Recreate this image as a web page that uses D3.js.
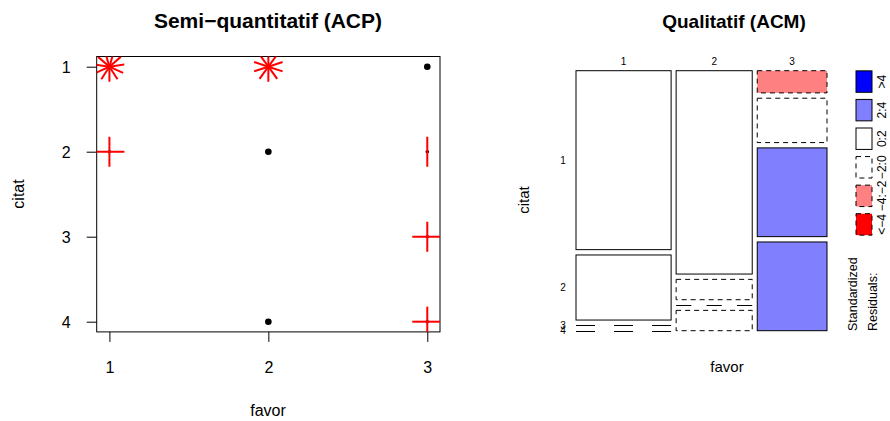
<!DOCTYPE html>
<html>
<head>
<meta charset="utf-8">
<script src="https://cdn.jsdelivr.net/npm/d3@7"></script>
<style>
  body { margin: 0; background: #fff; }
  text { font-family: "Liberation Sans", Arial, sans-serif; fill: #000; }
</style>
</head>
<body>
<script>
// data: contingency table, rows = favor, cols = citat
var favorLevels = ["1", "2", "3"];
var citatLevels = ["1", "2", "3", "4"];
var counts = [
  [11, 4, 0, 0],
  [10, 1, 0, 1],
  [1, 2, 4, 4]
];
// shading legend
var legendLabels = [">4", "2:4", "0:2", "\u22122:0", "\u22124:\u22122", "<\u22124"];
var legendFills = ["#0000ff", "#8080ff", "#ffffff", "#ffffff", "#ff8080", "#ff0000"];
var legendDashed = [false, false, false, true, true, true];

var width = 890, height = 421;
var svg = d3.select("body").append("svg")
  .attr("width", width).attr("height", height);

// ---------- left: sunflower plot ----------
var pts = [];
counts.forEach(function (row, i) {
  row.forEach(function (n, j) {
    if (n > 0) pts.push({ x: +favorLevels[i], y: +citatLevels[j], n: n });
  });
});

var x = d3.scaleLinear().domain([0.92, 3.08]).range([96.7, 440]);
var y = d3.scaleLinear().domain([0.88, 4.12]).range([56.5, 331.9]);

var left = svg.append("g");
left.append("clipPath").attr("id", "clipL")
  .append("rect")
  .attr("x", x.range()[0]).attr("y", y.range()[0])
  .attr("width", x.range()[1] - x.range()[0])
  .attr("height", y.range()[1] - y.range()[0]);

var xAxis = left.append("g")
  .attr("transform", "translate(0," + y.range()[1] + ")")
  .call(d3.axisBottom(x).tickValues([1, 2, 3]).tickFormat(d3.format("d")).tickSize(10).tickPadding(20));
var yAxis = left.append("g")
  .attr("transform", "translate(" + x.range()[0] + ",0)")
  .call(d3.axisLeft(y).tickValues([1, 2, 3, 4]).tickFormat(d3.format("d")).tickSize(10).tickPadding(16));
[xAxis, yAxis].forEach(function (a) {
  a.select(".domain").remove();
  a.selectAll("line").attr("stroke", "#000");
  a.selectAll("text").style("font-size", "16px").attr("fill", "#000");
});
yAxis.selectAll("text").attr("dy", "0.36em");

left.append("rect")
  .attr("x", x.range()[0]).attr("y", y.range()[0])
  .attr("width", x.range()[1] - x.range()[0])
  .attr("height", y.range()[1] - y.range()[0])
  .attr("fill", "none").attr("stroke", "#000");

var petalLen = 15;
var petals = [];
pts.filter(function (d) { return d.n > 1; }).forEach(function (d) {
  for (var k = 1; k <= d.n; k++) {
    var deg = 2 * Math.PI * k / d.n;
    petals.push({ d: d, dx: Math.sin(deg), dy: Math.cos(deg) });
  }
});

var gp = left.append("g").attr("clip-path", "url(#clipL)");
gp.selectAll("circle")
  .data(pts)
  .enter().append("circle")
  .attr("cx", function (d) { return x(d.x); })
  .attr("cy", function (d) { return y(d.y); })
  .attr("r", function (d) { return d.n > 1 ? 1.8 : 3.3; })
  .attr("fill", "#000");
gp.selectAll("line")
  .data(petals)
  .enter().append("line")
  .attr("x1", function (p) { return x(p.d.x); })
  .attr("y1", function (p) { return y(p.d.y); })
  .attr("x2", function (p) { return x(p.d.x) + petalLen * p.dx; })
  .attr("y2", function (p) { return y(p.d.y) + petalLen * p.dy; })
  .attr("stroke", "#ff0000").attr("stroke-width", 2);

left.append("text").attr("x", 268).attr("y", 28)
  .attr("text-anchor", "middle").style("font-size", "21px").style("font-weight", "bold")
  .text("Semi\u2212quantitatif (ACP)");
left.append("text").attr("x", 268).attr("y", 416)
  .attr("text-anchor", "middle").style("font-size", "16px").text("favor");
left.append("text").attr("transform", "translate(24,194) rotate(-90)")
  .attr("text-anchor", "middle").style("font-size", "16px").text("citat");

// ---------- right: mosaic plot ----------
var total = d3.sum(counts, function (r) { return d3.sum(r); });
var colTot = counts.map(function (r) { return d3.sum(r); });
var rowTot = citatLevels.map(function (c, j) { return d3.sum(counts, function (r) { return r[j]; }); });

var mx = d3.scaleLinear().domain([0, 1]).range([576, 827]);
var my = d3.scaleLinear().domain([0, 1]).range([70.7, 330.7]);
var offX = 0.04, offY = 0.0615;

var cells = [];
var xl = 0;
counts.forEach(function (row, i) {
  var w = (1 - offX) * colTot[i] / total;
  var yt = 0;
  row.forEach(function (n, j) {
    var h = (1 - offY) * n / colTot[i];
    var e = colTot[i] * rowTot[j] / total;
    cells.push({ i: i, j: j, n: n, x0: xl, x1: xl + w, y0: yt, y1: yt + h, res: (n - e) / Math.sqrt(e) });
    yt += h + offY / (citatLevels.length - 1);
  });
  xl += w + offX / (favorLevels.length - 1);
});

function shadeIdx(r) {
  if (r > 4) return 0;
  if (r > 2) return 1;
  if (r > 0) return 2;
  if (r > -2) return 3;
  if (r > -4) return 4;
  return 5;
}

var right = svg.append("g");
right.selectAll("rect.cell")
  .data(cells.filter(function (c) { return c.n > 0; }))
  .enter().append("rect").attr("class", "cell")
  .attr("x", function (c) { return mx(c.x0); })
  .attr("y", function (c) { return my(c.y0); })
  .attr("width", function (c) { return mx(c.x1) - mx(c.x0); })
  .attr("height", function (c) { return my(c.y1) - my(c.y0); })
  .attr("fill", function (c) { return legendFills[shadeIdx(c.res)]; })
  .attr("stroke", "#000")
  .attr("stroke-dasharray", function (c) { return legendDashed[shadeIdx(c.res)] ? "5,4" : null; });

// zero cells: three short segments
var zsegs = [];
cells.filter(function (c) { return c.n === 0; }).forEach(function (c) {
  [0, 2, 4].forEach(function (k) { zsegs.push({ c: c, k: k }); });
});
right.selectAll("line.zero")
  .data(zsegs)
  .enter().append("line").attr("class", "zero")
  .attr("x1", function (s) { return mx(s.c.x0 + (s.c.x1 - s.c.x0) * s.k / 5); })
  .attr("x2", function (s) { return mx(s.c.x0 + (s.c.x1 - s.c.x0) * (s.k + 1) / 5); })
  .attr("y1", function (s) { return Math.round(my(s.c.y0)) + 0.5; })
  .attr("y2", function (s) { return Math.round(my(s.c.y0)) + 0.5; })
  .attr("stroke", "#000").attr("stroke-width", 1);

// column labels
right.selectAll("text.col")
  .data(cells.filter(function (c) { return c.j === 0; }))
  .enter().append("text").attr("class", "col")
  .attr("x", function (c) { return (mx(c.x0) + mx(c.x1)) / 2; })
  .attr("y", 65)
  .attr("text-anchor", "middle").style("font-size", "10px")
  .text(function (c) { return favorLevels[c.i]; });
// row labels (first column)
right.selectAll("text.row")
  .data(cells.filter(function (c) { return c.i === 0; }))
  .enter().append("text").attr("class", "row")
  .attr("x", 563)
  .attr("y", function (c) { return (my(c.y0) + my(c.y1)) / 2; })
  .attr("dy", "0.36em")
  .attr("text-anchor", "middle").style("font-size", "10px")
  .text(function (c) { return citatLevels[c.j]; });

right.append("text").attr("x", 734).attr("y", 28)
  .attr("text-anchor", "middle").style("font-size", "19px").style("font-weight", "bold")
  .text("Qualitatif (ACM)");
right.append("text").attr("x", 727).attr("y", 372)
  .attr("text-anchor", "middle").style("font-size", "15px").text("favor");
right.append("text").attr("transform", "translate(529,200) rotate(-90)")
  .attr("text-anchor", "middle").style("font-size", "15px").text("citat");

// legend
var ly = d3.scaleBand().domain(legendLabels).range([68, 238]).paddingInner(0.25).paddingOuter(0.1);
var lg = right.append("g");
lg.selectAll("rect")
  .data(legendLabels)
  .enter().append("rect")
  .attr("x", 856).attr("width", 16)
  .attr("y", function (d) { return ly(d); })
  .attr("height", ly.bandwidth())
  .attr("fill", function (d, i) { return legendFills[i]; })
  .attr("stroke", "#000")
  .attr("stroke-dasharray", function (d, i) { return legendDashed[i] ? "5,4" : null; });
lg.selectAll("text")
  .data(legendLabels)
  .enter().append("text")
  .attr("transform", function (d) { return "translate(886," + (ly(d) + ly.bandwidth() / 2) + ") rotate(-90)"; })
  .attr("text-anchor", "middle").style("font-size", "12px")
  .text(function (d) { return d; });
lg.append("text").attr("transform", "translate(857,331) rotate(-90)")
  .style("font-size", "12.5px").text("Standardized");
lg.append("text").attr("transform", "translate(877,331) rotate(-90)")
  .style("font-size", "12.5px").text("Residuals:");
</script>
</body>
</html>
